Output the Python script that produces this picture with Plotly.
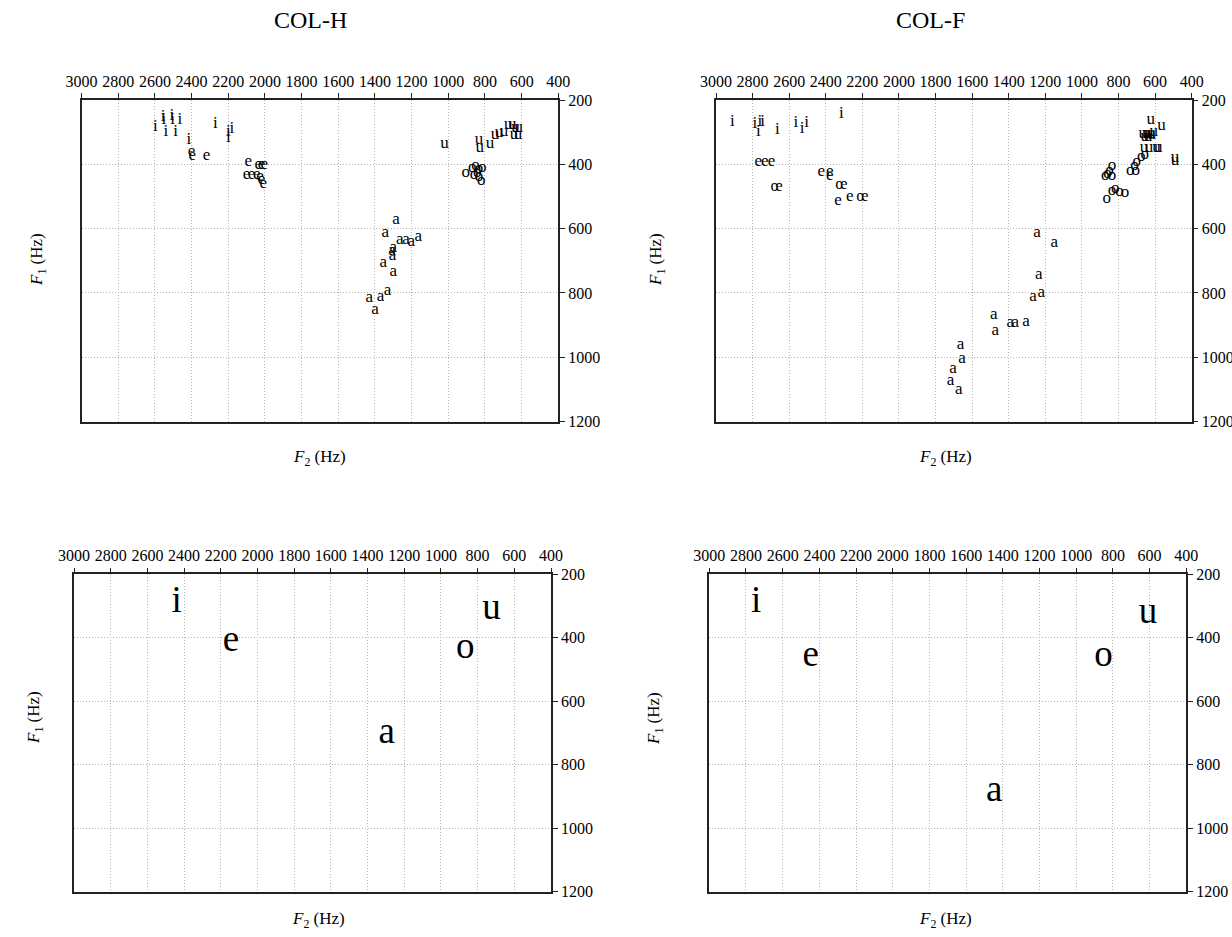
import plotly.graph_objects as go

# ---------------- data (F2, F1 in Hz) ----------------
# COL-H individual tokens
colh_i_f2 = [2598, 2555, 2551, 2540, 2508, 2504, 2487, 2464, 2415, 2271, 2200, 2200, 2180]
colh_i_f1 = [283, 252, 262, 298, 250, 262, 298, 262, 324, 273, 298, 318, 288]
colh_e_f2 = [2400, 2396, 2318, 2091, 2036, 2018, 2004, 2100, 2073, 2045, 2027, 2018, 2009]
colh_e_f1 = [362, 372, 374, 392, 402, 402, 400, 433, 433, 433, 438, 449, 461]
colh_a_f2 = [1285, 1344, 1264, 1231, 1202, 1164, 1300, 1307, 1304, 1355, 1300, 1431, 1369, 1331, 1400]
colh_a_f1 = [573, 612, 635, 636, 641, 625, 659, 669, 685, 707, 733, 815, 811, 793, 853]
colh_o_f2 = [905, 869, 851, 833, 815, 842, 833, 820, 860]
colh_o_f1 = [426, 410, 405, 413, 410, 426, 439, 452, 431]
colh_u_f2 = [1020, 833, 829, 773, 745, 724, 696, 673, 651, 633, 615, 642, 620]
colh_u_f1 = [336, 323, 348, 336, 307, 302, 300, 278, 278, 285, 287, 307, 307]

# COL-F individual tokens
colf_i_f2 = [2911, 2787, 2769, 2760, 2745, 2664, 2564, 2529, 2505, 2315]
colf_i_f1 = [268, 273, 299, 268, 268, 292, 270, 289, 270, 242]
colf_e_f2 = [2769, 2733, 2696, 2669, 2424, 2378, 2378, 2315, 2333, 2269, 2200]
colf_e_f1 = [393, 393, 393, 471, 424, 422, 437, 464, 513, 502, 502]
colf_e_lab = ["e", "e", "e", "œ", "e", "e", "e", "œ", "e", "e", "œ"]
colf_a_f2 = [1245, 1151, 1236, 1267, 1222, 1482, 1473, 1391, 1364, 1305, 1664, 1655, 1704, 1718, 1673]
colf_a_f1 = [614, 645, 743, 811, 800, 868, 917, 893, 893, 889, 961, 1005, 1037, 1072, 1101]
colf_o_f2 = [836, 849, 873, 836, 860, 736, 706, 712, 700, 676, 657, 864, 836, 818, 795, 764]
colf_o_f1 = [403, 421, 436, 436, 428, 419, 421, 406, 392, 378, 371, 506, 483, 475, 486, 488]
colf_u_f2 = [624, 565, 667, 648, 633, 620, 607, 657, 639, 620, 661, 633, 593, 583, 491, 491]
colf_u_f1 = [262, 281, 304, 304, 304, 304, 298, 314, 314, 309, 350, 350, 347, 347, 379, 390]

# Means
mean_vowels = ["i", "e", "a", "o", "u"]
colh_mean_f2 = [2440, 2145, 1295, 867, 725]
colh_mean_f1 = [288, 413, 702, 434, 313]
colf_mean_f2 = [2745, 2447, 1447, 851, 609]
colf_mean_f1 = [290, 460, 886, 460, 323]

titles = ["COL-H", "COL-F"]
x_ticks = list(range(400, 3001, 200))
y_ticks = list(range(200, 1201, 200))

# ---------------- figure ----------------
W, H = 1232, 937
FONT = "Liberation Serif, Times New Roman, serif"

def px(x):
    return x / W

def py(y):
    return 1 - y / H

# panel pixel boxes in window pixels: (left, right, top, bottom)
panels = {
    1: (81.6, 558.3, 100, 421.5),
    2: (716, 1191.7, 100, 421.5),
    3: (74, 551, 574.3, 891.8),
    4: (709.3, 1186.3, 574.3, 891.8),
}

fig = go.Figure()

def add_text(idx, xs, ys, labels, size):
    suffix = "" if idx == 1 else str(idx)
    fig.add_trace(go.Scatter(
        x=xs, y=ys, mode="text", text=labels,
        textposition="middle center",
        textfont=dict(family=FONT, size=size, color="#000000"),
        xaxis="x" + suffix, yaxis="y" + suffix, showlegend=False,
        hoverinfo="x+y+text",
    ))

small = 17
add_text(1, colh_i_f2, colh_i_f1, ["i"] * len(colh_i_f2), small)
add_text(1, colh_e_f2, colh_e_f1, ["e"] * len(colh_e_f2), small)
add_text(1, colh_a_f2, colh_a_f1, ["a"] * len(colh_a_f2), small)
add_text(1, colh_o_f2, colh_o_f1, ["o"] * len(colh_o_f2), small)
add_text(1, colh_u_f2, colh_u_f1, ["u"] * len(colh_u_f2), small)

add_text(2, colf_i_f2, colf_i_f1, ["i"] * len(colf_i_f2), small)
add_text(2, colf_e_f2, colf_e_f1, colf_e_lab, small)
add_text(2, colf_a_f2, colf_a_f1, ["a"] * len(colf_a_f2), small)
add_text(2, colf_o_f2, colf_o_f1, ["o"] * len(colf_o_f2), small)
add_text(2, colf_u_f2, colf_u_f1, ["u"] * len(colf_u_f2), small)

add_text(3, colh_mean_f2, colh_mean_f1, mean_vowels, 37)
add_text(4, colf_mean_f2, colf_mean_f1, mean_vowels, 37)

layout = dict(
    width=W, height=H,
    margin=dict(l=0, r=0, t=0, b=0, autoexpand=False),
    paper_bgcolor="white", plot_bgcolor="white",
    showlegend=False,
)

for idx, (l, r, t, b) in panels.items():
    suffix = "" if idx == 1 else str(idx)
    common = dict(
        ticks="outside", ticklen=5, tickwidth=1, tickcolor="#222",
        showline=True, linecolor="#222", linewidth=1.5, mirror=True,
        showgrid=True, gridcolor="#b4b4b4", griddash="1px,2px", gridwidth=1,
        zeroline=False, automargin=False,
        tickfont=dict(family=FONT, size=16, color="black"),
    )
    layout["xaxis" + suffix] = dict(
        domain=[px(l), px(r)], range=[3000, 400], side="top",
        anchor="y" + suffix, tickvals=x_ticks, ticktext=[str(v) for v in x_ticks],
        ticklabelstandoff=0, **common,
    )
    layout["yaxis" + suffix] = dict(
        domain=[py(b), py(t)], range=[1200, 200], side="right",
        anchor="x" + suffix, tickvals=y_ticks, ticktext=[str(v) for v in y_ticks],
        **common,
    )

annotations = []
# panel titles
for title, cx in zip(titles, [310, 930]):
    annotations.append(dict(
        x=px(cx), y=py(20), xref="paper", yref="paper", text=title,
        showarrow=False, xanchor="center", yanchor="middle",
        font=dict(family=FONT, size=24, color="black"),
    ))

f2_title = "<i>F</i><sub>2</sub> (Hz)"
f1_title = "<i>F</i><sub>1</sub> (Hz)"
f2_pos = [(320, 458), (945, 458), (318, 920), (945, 920)]
f1_pos = [(38, 260), (657, 260), (35, 718), (655, 718)]
for (x2, y2) in f2_pos:
    annotations.append(dict(
        x=px(x2), y=py(y2), xref="paper", yref="paper", text=f2_title,
        showarrow=False, xanchor="center", yanchor="middle",
        font=dict(family=FONT, size=17, color="black"),
    ))
for (x1, y1) in f1_pos:
    annotations.append(dict(
        x=px(x1), y=py(y1), xref="paper", yref="paper", text=f1_title,
        showarrow=False, xanchor="center", yanchor="middle", textangle=-90,
        font=dict(family=FONT, size=17, color="black"),
    ))

layout["annotations"] = annotations
fig.update_layout(**layout)

# remove the default 8px page margin so the figure fills the 1232x937 window exactly
fig.write_html(
    "out.html",
    config={"displayModeBar": False},
    post_script="document.body.style.margin='0';document.body.style.overflow='hidden';",
)
